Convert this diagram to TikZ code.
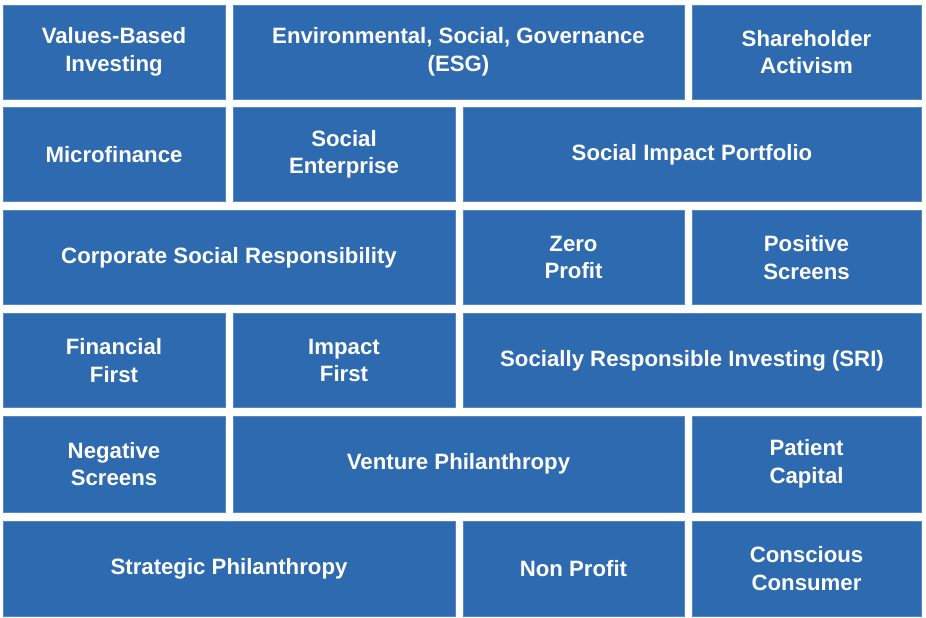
\documentclass[tikz,border=0pt]{standalone}
\usepackage{fontspec}
\setmainfont{Liberation Sans}
\usetikzlibrary{positioning}

\definecolor{tileblue}{RGB}{46,106,176}
\definecolor{tileedge}{RGB}{88,136,196}

\tikzset{
    tile/.style={fill=tileblue, draw=tileedge, line width=0.6pt,
	text=white, font=\fontsize{22.2}{27.5}\selectfont\bfseries,
	align=center, inner sep=0pt, minimum height=94pt},
    narrow/.style={tile, minimum width=222pt},
    wide/.style={tile, minimum width=451pt}
}

\begin{document}
\begin{tikzpicture}[x=1pt, y=-1pt]
    \useasboundingbox (0, 0) rectangle (926, 618);

    \node [narrow] (values) at (114, 52) {Values-Based\\Investing};
    \node [wide] (esg) at (458.5, 52) {Environmental, Social, Governance\\(ESG)};
    \node [narrow, minimum width=229pt] (activism) at (806.5, 52) {Shareholder\\Activism};

    \node [narrow] (micro) at (114, 154.5) {Microfinance};
    \node [narrow] (enterprise) at (344, 154.5) {Social\\Enterprise};
    \node [wide, minimum width=458pt] (portfolio) at (692, 154.5) {Social Impact Portfolio};

    \node [wide, minimum width=452pt] (csr) at (229, 257.5) {Corporate Social Responsibility};
    \node [narrow, minimum width=221pt] (zero) at (573.5, 257.5) {Zero\\Profit};
    \node [narrow, minimum width=229pt] (positive) at (806.5, 257.5) {Positive\\Screens};

    \node [narrow] (financial) at (114, 360.5) {Financial\\First};
    \node [narrow] (impact) at (344, 360.5) {Impact\\First};
    \node [wide, minimum width=458pt] (sri) at (692, 360.5) {Socially Responsible Investing (SRI)};

    \node [narrow, minimum height=96pt] (negative) at (114, 464) {Negative\\Screens};
    \node [wide, minimum height=96pt] (venture) at (458.5, 464) {Venture Philanthropy};
    \node [narrow, minimum width=229pt, minimum height=96pt] (patient) at (806.5, 464) {Patient\\Capital};

    \node [wide, minimum width=452pt, minimum height=95pt] (strategic) at (229, 568.5) {Strategic Philanthropy};
    \node [narrow, minimum width=221pt, minimum height=95pt] (nonprofit) at (573.5, 568.5) {Non Profit};
    \node [narrow, minimum width=229pt, minimum height=95pt] (consumer) at (806.5, 568.5) {Conscious\\Consumer};
\end{tikzpicture}
\end{document}
